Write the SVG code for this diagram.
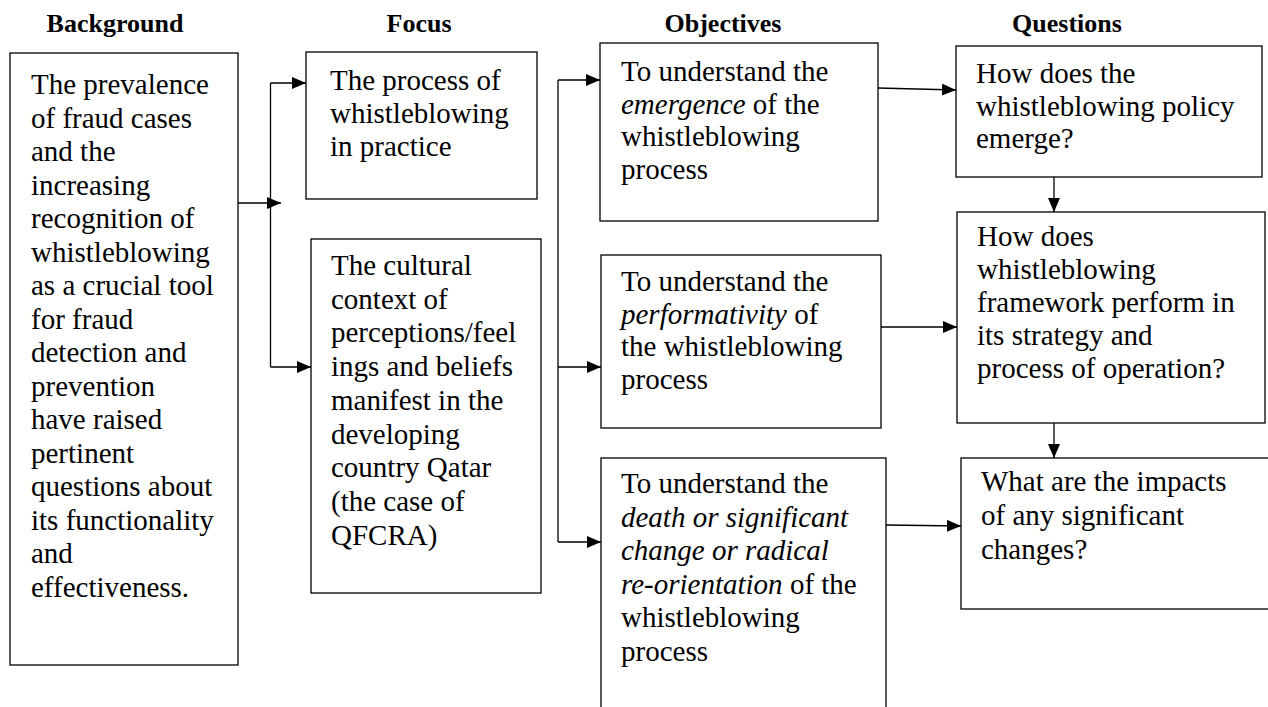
<svg xmlns="http://www.w3.org/2000/svg" width="1268" height="707" viewBox="0 0 1268 707">
<style>
.box{fill:#fff;stroke:#000;stroke-width:1.3}
.t{font-family:"Liberation Serif","Times New Roman",serif;font-size:29px;fill:#000}
.h{font-family:"Liberation Serif","Times New Roman",serif;font-size:26px;font-weight:bold;fill:#000;text-anchor:middle}
.c{fill:none;stroke:#000;stroke-width:1.3}
.i{font-style:italic}
</style>
<defs>
<marker id="ah" markerUnits="userSpaceOnUse" markerWidth="14" markerHeight="12" refX="14" refY="6" orient="auto">
<path d="M0,0 L14,6 L0,12 Z" fill="#000"/>
</marker>
</defs>
<rect width="1268" height="707" fill="#fff"/>
<g id="titles">
<text class="h" x="115" y="32">Background</text>
<text class="h" x="419" y="32">Focus</text>
<text class="h" x="723" y="32">Objectives</text>
<text class="h" x="1067" y="32">Questions</text>
</g>
<g id="connectors">
<path class="c" d="M238,203 H281" marker-end="url(#ah)"/>
<path class="c" d="M270.5,83 V367"/>
<path class="c" d="M270.5,83 H306" marker-end="url(#ah)"/>
<path class="c" d="M270.5,367 H311" marker-end="url(#ah)"/>
<path class="c" d="M558,80 V542"/>
<path class="c" d="M558,80 H600" marker-end="url(#ah)"/>
<path class="c" d="M558,367 H601" marker-end="url(#ah)"/>
<path class="c" d="M558,542 H601" marker-end="url(#ah)"/>
<path class="c" d="M878,88 L956,90" marker-end="url(#ah)"/>
<path class="c" d="M881,327 L957,327" marker-end="url(#ah)"/>
<path class="c" d="M886,525 L961,526" marker-end="url(#ah)"/>
<path class="c" d="M1054,177 V212" marker-end="url(#ah)"/>
<path class="c" d="M1054,423 V458" marker-end="url(#ah)"/>
</g>
<g id="background">
<rect class="box" x="10" y="53" width="228" height="612"/>
<text class="t">
<tspan x="31" y="94">The prevalence</tspan>
<tspan x="31" dy="33.5">of fraud cases</tspan>
<tspan x="31" dy="33.5">and the</tspan>
<tspan x="31" dy="33.5">increasing</tspan>
<tspan x="31" dy="33.5">recognition of</tspan>
<tspan x="31" dy="33.5">whistleblowing</tspan>
<tspan x="31" dy="33.5">as a crucial tool</tspan>
<tspan x="31" dy="33.5">for fraud</tspan>
<tspan x="31" dy="33.5">detection and</tspan>
<tspan x="31" dy="33.5">prevention</tspan>
<tspan x="31" dy="33.5">have raised</tspan>
<tspan x="31" dy="33.5">pertinent</tspan>
<tspan x="31" dy="33.5">questions about</tspan>
<tspan x="31" dy="33.5">its functionality</tspan>
<tspan x="31" dy="33.5">and</tspan>
<tspan x="31" dy="33.5">effectiveness.</tspan>
</text>
</g>
<g id="focus1">
<rect class="box" x="306" y="52" width="231" height="147"/>
<text class="t">
<tspan x="330" y="90">The process of</tspan>
<tspan x="330" dy="33">whistleblowing</tspan>
<tspan x="330" dy="33">in practice</tspan>
</text>
</g>
<g id="focus2">
<rect class="box" x="311" y="239" width="230" height="354"/>
<text class="t">
<tspan x="331" y="275">The cultural</tspan>
<tspan x="331" dy="33.7">context of</tspan>
<tspan x="331" dy="33.7">perceptions/feel</tspan>
<tspan x="331" dy="33.7">ings and beliefs</tspan>
<tspan x="331" dy="33.7">manifest in the</tspan>
<tspan x="331" dy="33.7">developing</tspan>
<tspan x="331" dy="33.7">country Qatar</tspan>
<tspan x="331" dy="33.7">(the case of</tspan>
<tspan x="331" dy="33.7">QFCRA)</tspan>
</text>
</g>
<g id="objective1">
<rect class="box" x="600" y="43" width="278" height="178"/>
<text class="t">
<tspan x="621" y="81">To understand the</tspan>
<tspan x="621" dy="32.5"><tspan class="i">emergence</tspan> of the</tspan>
<tspan x="621" dy="32.5">whistleblowing</tspan>
<tspan x="621" dy="32.5">process</tspan>
</text>
</g>
<g id="objective2">
<rect class="box" x="601" y="255" width="280" height="173"/>
<text class="t">
<tspan x="621" y="291">To understand the</tspan>
<tspan x="621" dy="32.5"><tspan class="i">performativity</tspan> of</tspan>
<tspan x="621" dy="32.5">the whistleblowing</tspan>
<tspan x="621" dy="32.5">process</tspan>
</text>
</g>
<g id="objective3">
<rect class="box" x="601" y="458" width="285" height="270"/>
<text class="t">
<tspan x="621" y="493">To understand the</tspan>
<tspan x="621" dy="33.5" class="i">death or significant</tspan>
<tspan x="621" dy="33.5" class="i">change or radical</tspan>
<tspan x="621" dy="33.5"><tspan class="i">re-orientation</tspan> of the</tspan>
<tspan x="621" dy="33.5">whistleblowing</tspan>
<tspan x="621" dy="33.5">process</tspan>
</text>
</g>
<g id="question1">
<rect class="box" x="956" y="46" width="306" height="131"/>
<text class="t">
<tspan x="976" y="83">How does the</tspan>
<tspan x="976" dy="32.5">whistleblowing policy</tspan>
<tspan x="976" dy="32.5">emerge?</tspan>
</text>
</g>
<g id="question2">
<rect class="box" x="957" y="212" width="308" height="211"/>
<text class="t">
<tspan x="977" y="246">How does</tspan>
<tspan x="977" dy="33">whistleblowing</tspan>
<tspan x="977" dy="33">framework perform in</tspan>
<tspan x="977" dy="33">its strategy and</tspan>
<tspan x="977" dy="33">process of operation?</tspan>
</text>
</g>
<g id="question3">
<rect class="box" x="961" y="458" width="320" height="151"/>
<text class="t">
<tspan x="981" y="491">What are the impacts</tspan>
<tspan x="981" dy="34">of any significant</tspan>
<tspan x="981" dy="34">changes?</tspan>
</text>
</g>
</svg>
